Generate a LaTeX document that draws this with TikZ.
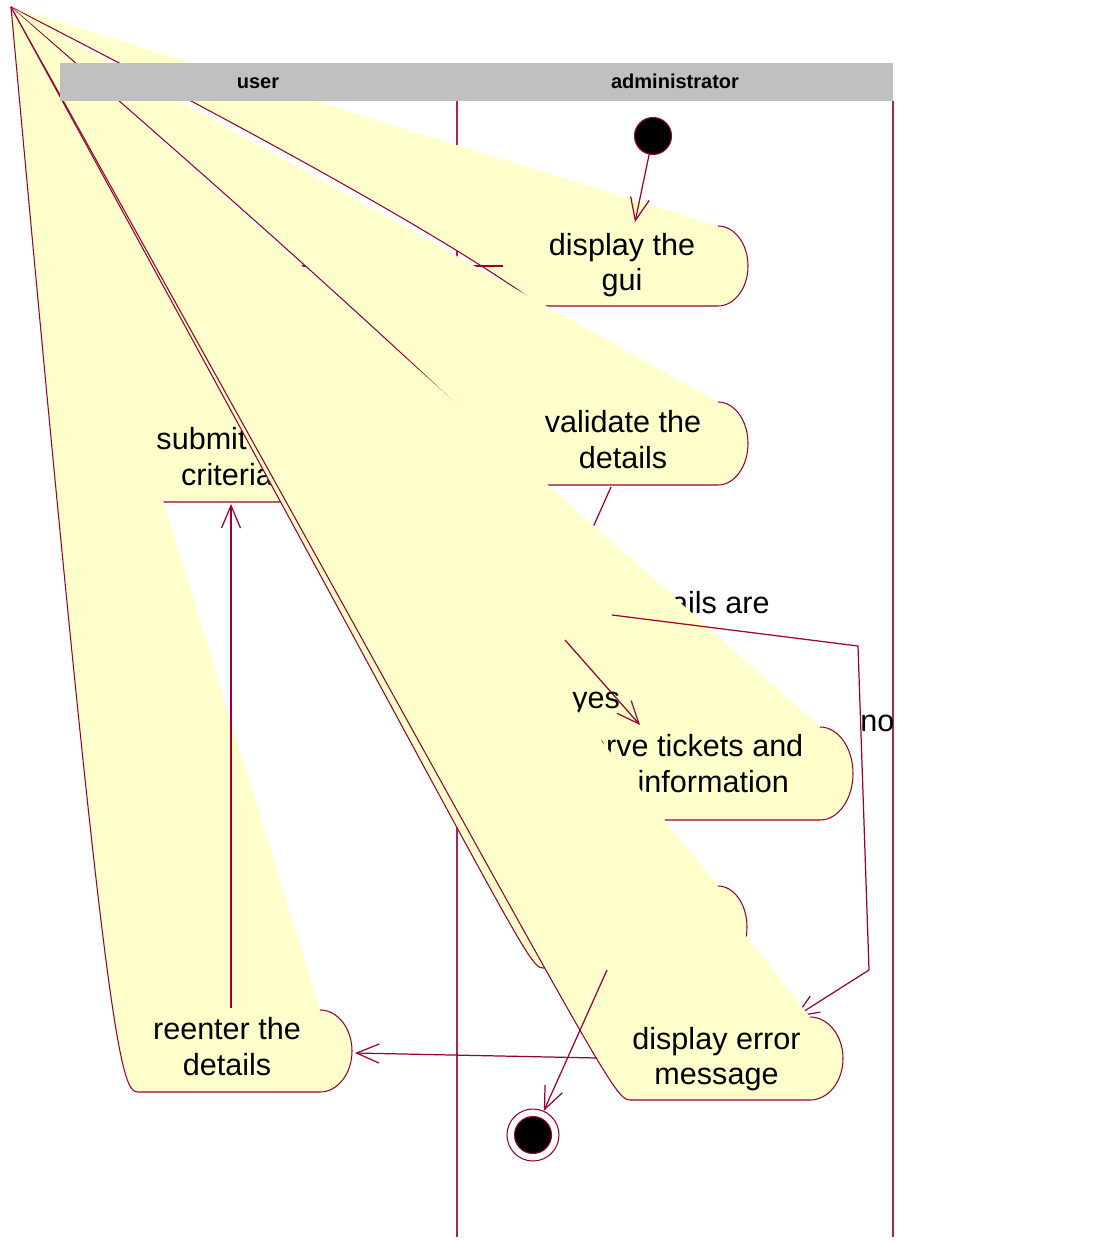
\documentclass[tikz,border=0pt]{standalone}
\usepackage{fontspec}
\setmainfont{Liberation Sans}
\usepackage{xcolor}
\usepackage{tikz}
\usetikzlibrary{
    arrows.meta
}
\definecolor{rosered}{RGB}{153,0,51}
\definecolor{aktgelb}{RGB}{255,255,204}
\definecolor{kopfgrau}{RGB}{192,192,192}

\tikzstyle{aktion} = [
    fill=aktgelb,
    draw=rosered,
    line width=0.6pt,
    line join=round
]
\tikzstyle{aktext} = [
    align=center,
    inner sep=0pt,
    font=\fontsize{17.4}{20.1}\selectfont
]
\tikzstyle{beschriftung} = [
    inner sep=0pt,
    anchor=base west,
    font=\fontsize{17.4}{20.1}\selectfont
]
\tikzstyle{uebergang} = [
    draw=rosered,
    line width=0.7pt,
    -{Straight Barb[length=4.5mm,width=3.8mm]}
]
\tikzstyle{bahn} = [
    draw=rosered!85,
    line width=1.1pt
]
\tikzstyle{kopf} = [
    inner sep=0pt,
    anchor=base,
    font=\fontsize{11.4}{13}\selectfont\bfseries
]
\tikzstyle{startpunkt} = [
    circle,
    fill=black,
    draw=rosered,
    line width=0.6pt,
    inner sep=0pt,
    minimum size=0.74cm
]
\tikzstyle{endring} = [
    circle,
    fill=white,
    draw=rosered,
    line width=0.6pt,
    inner sep=0pt,
    minimum size=1.04cm
]

% Aktionsfläche: #1 links, #2 rechts, #3 oben, #4 unten, #5 Bogenbreite
% (die linke Rundung läuft bis zur gemeinsamen Spitze)
\newcommand{\aktion}[5]{%
    \pgfmathsetmacro{\aktry}{(#4-#3)/2}
    \pgfmathsetmacro{\aktym}{(#4+#3)/2}
    \path[aktion] (#2,#3)
        .. controls +(0.552*#5,0) and +(0,-0.552*\aktry) .. (#2+#5,\aktym)
        .. controls +(0,0.552*\aktry) and +(0.552*#5,0) .. (#2,#4)
        -- (#1,#4)
        .. controls +(-0.552*#5,0) and (#1-#5,\aktym) .. (spitze);
}

\begin{document}
\begin{tikzpicture}[x=0.02cm, y=-0.02cm]
\useasboundingbox (0,0) rectangle (1108,1243);

% Gemeinsame Spitze aller Flächen
\coordinate (spitze) at (11,7);

% Bahnen
\foreach \x in {457,893} {
    \draw[bahn] (\x,101) -- (\x,1237);
}

% display the gui
\aktion{546}{718}{226}{306}{30}
\node[aktext] (gui) at (622,264.8) {display the\\gui};

% Start
\node[startpunkt] (start) at (653,136) {};
\coordinate (gui-n) at (635,222);
\draw[uebergang] (start) -- (gui-n);

% weiter zum Benutzer
\coordinate (gui-w) at (503,266);
\coordinate (submit-n) at (231,421);
\draw[uebergang] (gui-w) -| (submit-n);

% submit
\aktion{140}{318}{421}{502}{32}
\node[aktext] (submit) at (227,456.6) {submit the\\criteria};

% validate
\aktion{546}{718}{402}{485}{30}
\node[aktext] (validate) at (623,439.6) {validate the\\details};

% Entscheidung
\coordinate (validate-s) at (611,487);
\coordinate (raute-n) at (565,590);
\coordinate (raute-s) at (565,640);
\coordinate (raute-o) at (612,615);
\draw[uebergang] (validate-s) -- (raute-n);
\node[beschriftung, anchor=base east] (bedingung) at (770,613) {details are};

% reserve
\aktion{540}{820}{727}{820}{33}
\node[aktext] (reserve) at (675,763.6) {reserve tickets and\\store information};

% yes
\coordinate (reserve-nw) at (640,725);
\draw[uebergang] (raute-s) -- (reserve-nw);
\node[beschriftung] (ja) at (572,708) {yes};

% no
\coordinate (knick-o) at (858,646);
\coordinate (knick-u) at (869,970);
\coordinate (error-no) at (795,1017);
\draw[uebergang] (raute-o) -- (knick-o) -- (knick-u) -- (error-no);
\node[beschriftung] (nein) at (860,731) {no};

% nächste Aktion
\coordinate (reserve-s) at (665,820);
\coordinate (naechste-n) at (644,886);
\draw[uebergang] (reserve-s) -- (naechste-n);
\aktion{543}{718}{886}{968}{29}

% display error message
\aktion{630}{810}{1017}{1100}{33}
\node[aktext] (error) at (716.5,1058.8) {display error\\message};

% Ende
\node[endring] (ende) at (533,1135) {};
\node[startpunkt] (ende-innen) at (ende) {};
\coordinate (naechste-s) at (607,970);
\draw[uebergang] (naechste-s) -- (ende);

% reenter
\aktion{138}{320}{1010}{1092}{32}
\node[aktext] (reenter) at (227,1046.6) {reenter the\\details};

\coordinate (error-w) at (597,1058);
\coordinate (reenter-o) at (355,1053);
\draw[uebergang] (error-w) -- (reenter-o);
\coordinate (reenter-n) at (231,1008);
\coordinate (submit-s) at (231,504);
\draw[uebergang] (reenter-n) -- (submit-s);

% Kopfzeile
\fill[kopfgrau] (60,63) rectangle (893,101);
\node[kopf] (kopf-user) at (258,88.5) {user};
\node[kopf] (kopf-admin) at (675,88.5) {administrator};
\end{tikzpicture}
\end{document}
